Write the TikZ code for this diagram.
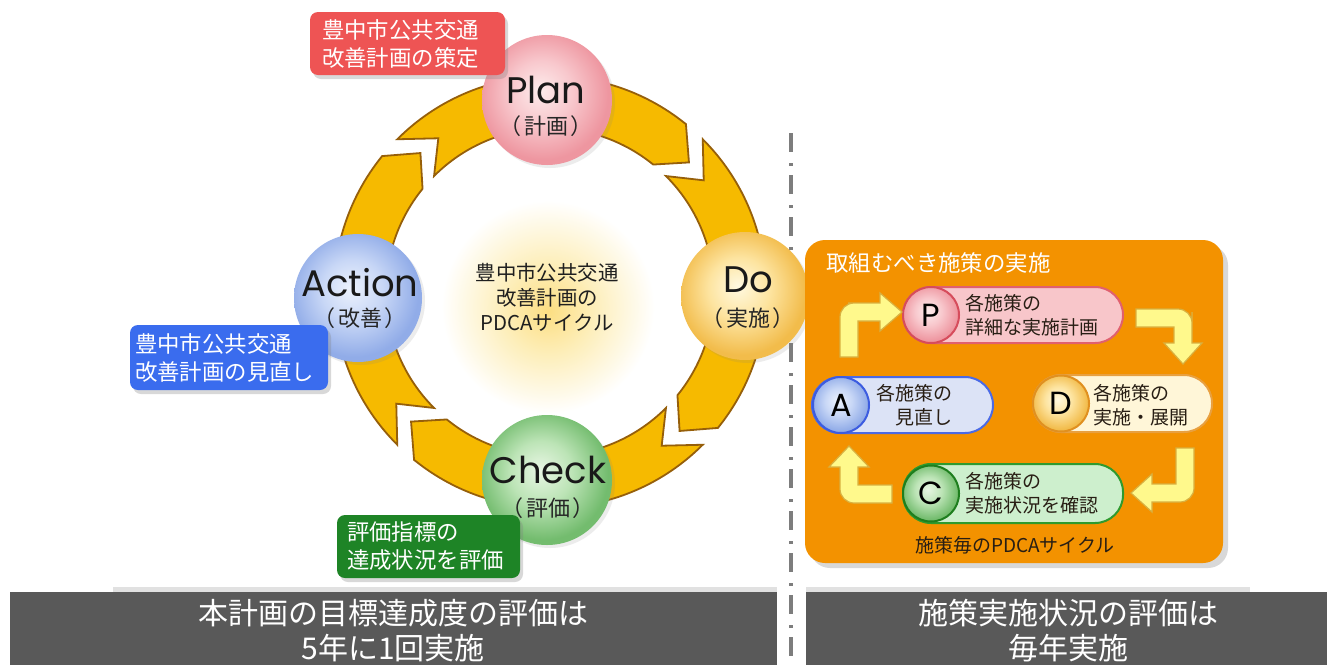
\documentclass[tikz,border=0pt]{standalone}
\usepackage{fontspec}
\setmainfont{Noto Sans CJK JP}
\newfontfamily\pop{Poppins}
\usetikzlibrary{shadows}

\definecolor{ringfill}{RGB}{246,186,0}
\definecolor{ringdraw}{RGB}{150,95,10}
\definecolor{barg}{RGB}{89,89,89}
\definecolor{barline}{RGB}{225,225,225}
\definecolor{sepg}{RGB}{125,125,125}
\definecolor{orbox}{RGB}{243,146,0}
\definecolor{lred}{RGB}{238,84,84}
\definecolor{lblue}{RGB}{58,108,238}
\definecolor{lgreen}{RGB}{30,132,38}
\definecolor{darktxt}{RGB}{40,30,20}
% big circles
\definecolor{plA}{RGB}{253,236,236}\definecolor{plB}{RGB}{248,200,205}\definecolor{plC}{RGB}{238,150,160}
\definecolor{acA}{RGB}{236,242,253}\definecolor{acB}{RGB}{200,215,246}\definecolor{acC}{RGB}{145,172,232}
\definecolor{doA}{RGB}{255,249,225}\definecolor{doB}{RGB}{253,228,160}\definecolor{doC}{RGB}{242,188,75}
\definecolor{chA}{RGB}{232,246,228}\definecolor{chB}{RGB}{188,228,182}\definecolor{chC}{RGB}{115,188,110}
\definecolor{glA}{RGB}{252,222,130}\definecolor{glB}{RGB}{253,238,185}
% pills
\definecolor{pPill}{RGB}{248,198,202}\definecolor{pEdge}{RGB}{224,96,110}\definecolor{pCirc}{RGB}{214,76,92}
\definecolor{dPill}{RGB}{255,246,216}\definecolor{dEdge}{RGB}{232,160,64}\definecolor{dCirc}{RGB}{224,144,32}
\definecolor{aPill}{RGB}{220,227,246}\definecolor{aEdge}{RGB}{74,106,230}\definecolor{aCirc}{RGB}{60,92,224}
\definecolor{cPill}{RGB}{205,239,205}\definecolor{cEdge}{RGB}{46,154,46}\definecolor{cCirc}{RGB}{30,126,30}
\definecolor{arrFill}{RGB}{255,249,140}\definecolor{arrEdge}{RGB}{216,176,64}

\pgfdeclareradialshading{plansh}{\pgfpoint{-3bp}{4bp}}{color(0bp)=(plA); color(12bp)=(plB); color(25bp)=(plC); color(50bp)=(plC)}
\pgfdeclareradialshading{actsh}{\pgfpoint{-3bp}{4bp}}{color(0bp)=(acA); color(12bp)=(acB); color(25bp)=(acC); color(50bp)=(acC)}
\pgfdeclareradialshading{dosh}{\pgfpoint{-3bp}{4bp}}{color(0bp)=(doA); color(12bp)=(doB); color(25bp)=(doC); color(50bp)=(doC)}
\pgfdeclareradialshading{chksh}{\pgfpoint{-3bp}{4bp}}{color(0bp)=(chA); color(12bp)=(chB); color(25bp)=(chC); color(50bp)=(chC)}
\pgfdeclareradialshading{glowsh}{\pgfpoint{0bp}{-2bp}}{color(0bp)=(glA); color(8bp)=(glB); color(19bp)=(white); color(50bp)=(white)}

\tikzset{
  ringst/.style={fill=ringfill, draw=ringdraw, line width=0.9pt, line join=miter},
  sepline/.style={draw=sepg, line width=2.4pt, dash pattern=on 9.5pt off 5.5pt on 1.5pt off 4.5pt},
  bigc/.style={circle, inner sep=0pt, outer sep=0pt, draw=none,
    drop shadow={opacity=0.15, shadow xshift=1.5pt, shadow yshift=-1.5pt}},
  ctxt/.style={font=\pop\fontsize{18.5}{20}\selectfont, text=black!90, inner sep=0pt},
  csub/.style={font=\fontsize{11}{12}\selectfont, text=black!85, inner sep=0pt},
  note/.style={rounded corners=4pt, text=white, align=left, inner ysep=0pt, outer sep=0pt,
    font=\fontsize{11.2}{14}\selectfont,
    drop shadow={opacity=0.3, shadow xshift=1.5pt, shadow yshift=-2pt}},
  mid/.style={font=\fontsize{10.2}{12.5}\selectfont, text=black!88, align=center, inner sep=0pt},
  panel/.style={fill=orbox, rounded corners=10pt, inner sep=0pt, outer sep=0pt,
    drop shadow={opacity=0.3, shadow xshift=2.5pt, shadow yshift=-2.5pt}},
  pill/.style={rounded corners=14pt, line width=1pt, inner sep=0pt, outer sep=0pt},
  pcirc/.style={circle, line width=1pt, inner sep=0pt, outer sep=0pt, minimum size=28pt,
    font=\pop\fontsize{16}{16}\selectfont, text=black},
  ptxt/.style={font=\fontsize{9.5}{12}\selectfont, text=darktxt, inner sep=0pt},
  barrow/.style={fill=arrFill, draw=arrEdge, line width=0.6pt, line join=miter},
  bar/.style={fill=barg, inner sep=0pt, outer sep=0pt, anchor=north west},
  bartxt/.style={text=white, align=center, inner sep=0pt, font=\fontsize{15}{17.5}\selectfont}
}
\newcommand\paren[1]{（\hspace{0.1em}#1\hspace{0.1em}）}

\begin{document}
\begin{tikzpicture}[x=0.5pt,y=-0.5pt]
\fill[white] (0,0) rectangle (1327,665);
\useasboundingbox (0,0) rectangle (1327,665);

% separator
\coordinate (septop) at (791,133);
\coordinate (sepbot) at (791,665);
\draw[sepline] (septop) -- (sepbot);

% glow in the middle
\node[circle, minimum size=140pt, inner sep=0pt, shading=glowsh] (glow) at (548,300) {};

% ring of arrows
\begin{scope}[shift={(550,292)}]
\foreach \ang in {90,0,-90,180}{
  \pgfmathsetmacro\rsA{\ang+45}
  \pgfmathsetmacro\rsB{\ang-39}
  \pgfmathsetmacro\rsC{\ang-47}
  \pgfmathsetmacro\rsD{\ang+36}
  \draw[ringst] (\rsA:108pt) arc[start angle=\rsA, end angle=\rsB, radius=108pt]
     -- (\rsC:95pt) -- (\rsB:82pt)
     arc[start angle=\rsB, end angle=\rsA, radius=82pt]
     -- (\rsD:95pt) -- cycle;
}
\end{scope}

% big circles
\node[bigc, minimum size=65pt, shading=plansh] (plan) at (547,100) {};
\node[bigc, minimum size=64pt, shading=dosh] (do) at (745,296) {};
\node[bigc, minimum size=65pt, shading=chksh] (check) at (547,480) {};
\node[bigc, minimum size=64pt, shading=actsh] (action) at (358,298) {};

\node[ctxt] (plant) at (546,90) {Plan};
\node[csub] (plans) at (546,126) {\paren{計画}};
\node[ctxt] (dot) at (748,280) {Do};
\node[csub] (dos) at (748,318) {\paren{実施}};
\node[ctxt] (checkt) at (548,470) {Check};
\node[csub] (checks) at (548,508) {\paren{評価}};
\node[ctxt] (actiont) at (360,283) {Action};
\node[csub] (actions) at (360,318) {\paren{改善}};

\node[mid] (midtxt) at (547,297) {豊中市公共交通\\改善計画の\\PDCAサイクル};

% notes
\node[note, fill=lred, minimum width=97.5pt, minimum height=31.5pt, inner xsep=6pt, text width=85.5pt]
  (plannote) at (407.5,43.5) {豊中市公共交通\\改善計画の策定};
\node[note, fill=lblue, minimum width=99pt, minimum height=32.5pt, inner xsep=2.5pt, text width=94pt]
  (actnote) at (229,357.5) {豊中市公共交通\\改善計画の見直し};
\node[note, fill=lgreen, minimum width=91.5pt, minimum height=31.5pt, inner xsep=5pt, text width=81.5pt]
  (chknote) at (428.5,546.5) {評価指標の\\達成状況を評価};

% right panel
\node[panel, minimum width=209pt, minimum height=161.5pt] (panel) at (1014,401.5) {};
\node[anchor=west, text=white, inner sep=0pt, font=\fontsize{11.2}{13}\selectfont] (ptitle) at (826,263) {取組むべき施策の実施};

% pills
\node[pill, fill=pPill, draw=pEdge, minimum width=110pt, minimum height=28pt] (ppill) at (1013,315) {};
\node[pcirc, shading=plansh, draw=pCirc] (pc) at (931,315) {P};
\node[ptxt, anchor=west, align=left] (pt) at (965,315) {各施策の\\詳細な実施計画};

\node[pill, fill=dPill, draw=dEdge, minimum width=89.5pt, minimum height=28.5pt] (dpill) at (1122.5,403.5) {};
\node[pcirc, shading=dosh, draw=dCirc] (dc) at (1061,403.5) {D};
\node[ptxt, anchor=west, align=left] (dt) at (1093,405) {各施策の\\実施・展開};

\node[pill, fill=aPill, draw=aEdge, minimum width=90.5pt, minimum height=28pt] (apill) at (902.5,405) {};
\node[pcirc, shading=actsh, draw=aCirc] (ac) at (841,405) {A};
\node[ptxt, anchor=east, align=right] (at) at (953,405) {各施策の\\見直し};

\node[pill, fill=cPill, draw=cEdge, minimum width=110pt, minimum height=29.5pt] (cpill) at (1013,493.5) {};
\node[pcirc, shading=chksh, draw=cCirc] (cc) at (931,493.5) {C};
\node[ptxt, anchor=west, align=left] (ct) at (965,493.5) {各施策の\\実施状況を確認};

\node[ptxt] (pfoot) at (1015,545) {施策毎のPDCAサイクル};

% bent arrows
\draw[barrow] (849,357) -- (840,357) [rounded corners=7pt] -- (840,330) -- (840,303) -- (862,303) [sharp corners]
   -- (880,303) -- (880,293) -- (902,312) -- (880,331) -- (880,321) -- (858,321) -- (858,357) -- cycle;
\draw[barrow] (1136,309) [rounded corners=7pt] -- (1192,309) -- (1192,326) [sharp corners]
   -- (1192,343) -- (1202,343) -- (1183,364) -- (1164,343) -- (1174,343) -- (1174,327) -- (1136,327) -- cycle;
\draw[barrow] (1176,448) -- (1176,484) -- (1152,484) -- (1152,474) -- (1131,493) -- (1152,512) -- (1152,502)
   -- (1172,502) [rounded corners=7pt] -- (1194,502) -- (1194,470) [sharp corners] -- (1194,448) -- cycle;
\draw[barrow] (892,485) -- (858,485) -- (858,467) -- (869,467) -- (849,446) -- (829,467) -- (840,467)
   -- (840,485) [rounded corners=7pt] -- (840,503) -- (868,503) [sharp corners] -- (892,503) -- cycle;

% bottom bars
\fill[barline] (113,587) rectangle (777,592);
\fill[barline] (806,587) rectangle (1250,592);
\node[bar, minimum width=383.5pt, minimum height=36.5pt] (barL) at (10,592) {};
\node[bar, minimum width=260.5pt, minimum height=36.5pt] (barR) at (806,592) {};
\node[bartxt] (barLt) at (393,630.5) {本計画の目標達成度の評価は\\5年に1回実施};
\node[bartxt] (barRt) at (1068,630.5) {施策実施状況の評価は\\毎年実施};
\end{tikzpicture}
\end{document}
